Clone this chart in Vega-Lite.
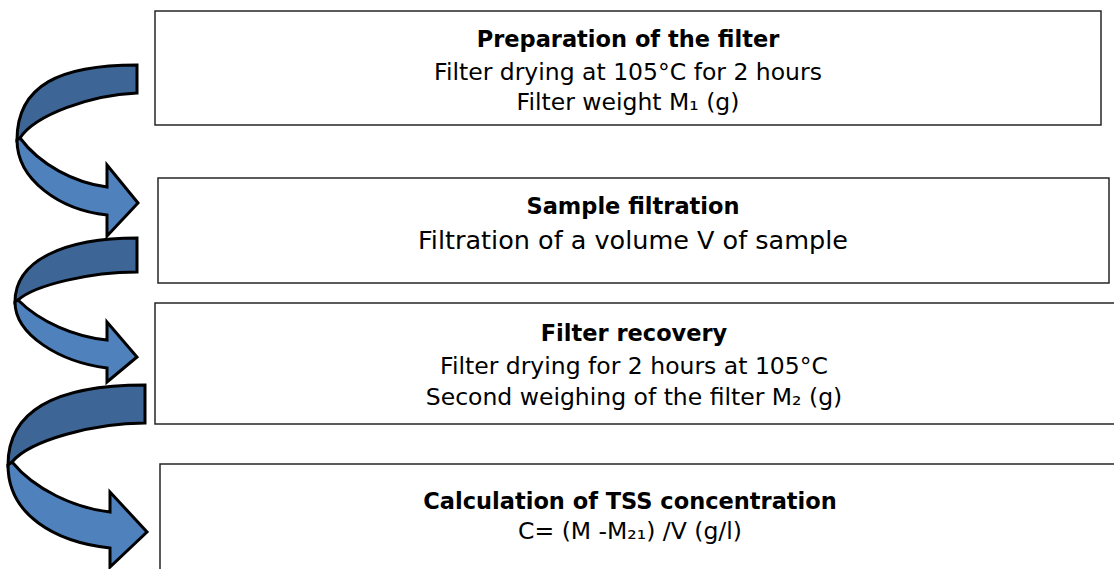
{
  "$schema": "https://vega.github.io/schema/vega-lite/v6.json",
  "width": 1114,
  "height": 569,
  "autosize": {"type": "none"},
  "padding": 0,
  "background": "white",
  "config": {"view": {"stroke": null}},
  "datasets": {
    "boxes": [
      {"step": 1, "left": 155, "right": 1101, "top": 11, "bottom": 125},
      {"step": 2, "left": 158, "right": 1109, "top": 178, "bottom": 283},
      {"step": 3, "left": 155, "right": 1120, "top": 303, "bottom": 424},
      {"step": 4, "left": 160, "right": 1120, "top": 464, "bottom": 585}
    ],
    "arrows": [
      {"arrow": 1, "part": "a1-dark", "tone": "dark", "cx": 77, "cy": 150},
      {"arrow": 1, "part": "a1-light", "tone": "light", "cx": 77, "cy": 150},
      {"arrow": 2, "part": "a2-dark", "tone": "dark", "cx": 76, "cy": 312},
      {"arrow": 2, "part": "a2-light", "tone": "light", "cx": 76, "cy": 312},
      {"arrow": 3, "part": "a3-dark", "tone": "dark", "cx": 77, "cy": 476},
      {"arrow": 3, "part": "a3-light", "tone": "light", "cx": 77, "cy": 476}
    ],
    "texts": [
      {"step": 1, "role": "title", "text": "Preparation of the filter", "cx": 628, "by": 47},
      {"step": 1, "role": "detail", "text": "Filter drying at 105°C for 2 hours", "cx": 628, "by": 80},
      {"step": 1, "role": "detail", "text": "Filter weight M₁ (g)", "cx": 628, "by": 110},
      {"step": 2, "role": "title", "text": "Sample filtration", "cx": 633, "by": 214},
      {"step": 2, "role": "detail", "text": "Filtration of a volume V of sample", "cx": 633, "by": 249},
      {"step": 3, "role": "title", "text": "Filter recovery", "cx": 634, "by": 341},
      {"step": 3, "role": "detail", "text": "Filter drying for 2 hours at 105°C", "cx": 634, "by": 374},
      {"step": 3, "role": "detail", "text": "Second weighing of the filter M₂ (g)", "cx": 634, "by": 405},
      {"step": 4, "role": "title", "text": "Calculation of TSS concentration", "cx": 630, "by": 509},
      {"step": 4, "role": "detail", "text": "C= (M -M₂₁) /V (g/l)", "cx": 630, "by": 539}
    ]
  },
  "layer": [
    {
      "data": {"name": "boxes"},
      "mark": {"type": "rect", "fill": "white", "stroke": "#262626", "strokeWidth": 1.5},
      "encoding": {
        "x": {"field": "left", "type": "quantitative", "scale": {"domain": [0, 1114], "nice": false, "zero": false}, "axis": null},
        "x2": {"field": "right"},
        "y": {"field": "top", "type": "quantitative", "scale": {"domain": [0, 569], "nice": false, "zero": false, "reverse": true}, "axis": null},
        "y2": {"field": "bottom"}
      }
    },
    {
      "data": {"name": "arrows"},
      "mark": {"type": "point", "filled": true, "opacity": 1, "size": 4, "stroke": "black", "strokeWidth": 3, "strokeJoin": "miter"},
      "encoding": {
        "x": {"field": "cx", "type": "quantitative", "scale": {"domain": [0, 1114], "nice": false, "zero": false}, "axis": null},
        "y": {"field": "cy", "type": "quantitative", "scale": {"domain": [0, 569], "nice": false, "zero": false, "reverse": true}, "axis": null},
        "shape": {
          "field": "part",
          "type": "nominal",
          "legend": null,
          "scale": {
            "domain": ["a1-dark", "a1-light", "a2-dark", "a2-light", "a3-dark", "a3-light"],
            "range": [
              "M60,-85 C-17,-85 -60,-65 -60,-10 L-57,-12 C-42,-35 13,-55 60,-57 Z",
              "M-57,-12 C-37,15 -2,33 30,37 L30,15 L61,53 L30,86 L30,65 C-17,60 -60,30 -60,-10 Z",
              "M61,-74 C-11,-74 -61,-52 -61,-10 L-58,-12 C-41,-27 14,-40 61,-40 Z",
              "M-58,-12 C-36,10 -1,25 31,28 L31,10 L61,45 L31,70 L31,56 C-16,50 -61,23 -61,-10 Z",
              "M68,-91 C-12,-91 -69,-71 -69,-11 L-65,-14 C-47,-36 18,-53 68,-53 Z",
              "M-65,-14 C-42,14 -2,32 33,36 L33,16 L70,56 L33,91 L33,72 C-22,66 -69,39 -69,-11 Z"
            ]
          }
        },
        "color": {
          "field": "tone",
          "type": "nominal",
          "legend": null,
          "scale": {"domain": ["dark", "light"], "range": ["#3D6697", "#4F81BD"]}
        },
        "order": {"field": "arrow", "type": "quantitative"}
      }
    },
    {
      "data": {"name": "texts"},
      "transform": [{"filter": "datum.role === 'title'"}],
      "mark": {"type": "text", "font": "DejaVu Sans", "fontWeight": "bold", "fontSize": 22.5, "align": "center", "baseline": "alphabetic", "color": "black"},
      "encoding": {
        "x": {"field": "cx", "type": "quantitative", "scale": {"domain": [0, 1114], "nice": false, "zero": false}, "axis": null},
        "y": {"field": "by", "type": "quantitative", "scale": {"domain": [0, 569], "nice": false, "zero": false, "reverse": true}, "axis": null},
        "text": {"field": "text"}
      }
    },
    {
      "data": {"name": "texts"},
      "transform": [{"filter": "datum.role === 'detail' && datum.step !== 2"}],
      "mark": {"type": "text", "font": "DejaVu Sans", "fontSize": 23.5, "align": "center", "baseline": "alphabetic", "color": "black"},
      "encoding": {
        "x": {"field": "cx", "type": "quantitative", "scale": {"domain": [0, 1114], "nice": false, "zero": false}, "axis": null},
        "y": {"field": "by", "type": "quantitative", "scale": {"domain": [0, 569], "nice": false, "zero": false, "reverse": true}, "axis": null},
        "text": {"field": "text"}
      }
    },
    {
      "data": {"name": "texts"},
      "transform": [{"filter": "datum.role === 'detail' && datum.step === 2"}],
      "mark": {"type": "text", "font": "DejaVu Sans", "fontSize": 25.5, "align": "center", "baseline": "alphabetic", "color": "black"},
      "encoding": {
        "x": {"field": "cx", "type": "quantitative", "scale": {"domain": [0, 1114], "nice": false, "zero": false}, "axis": null},
        "y": {"field": "by", "type": "quantitative", "scale": {"domain": [0, 569], "nice": false, "zero": false, "reverse": true}, "axis": null},
        "text": {"field": "text"}
      }
    }
  ]
}
